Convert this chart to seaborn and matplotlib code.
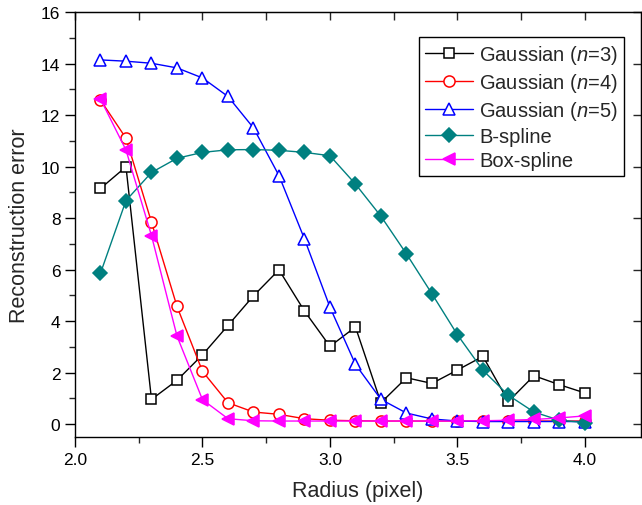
import numpy as np
import pandas as pd
import matplotlib
matplotlib.use("Agg")
import matplotlib.pyplot as plt
from matplotlib.ticker import MultipleLocator
import seaborn as sns

radius = [2.1, 2.2, 2.3, 2.4, 2.5, 2.6, 2.7, 2.8, 2.9, 3.0,
          3.1, 3.2, 3.3, 3.4, 3.5, 3.6, 3.7, 3.8, 3.9, 4.0]
gauss3 = [9.15, 9.99, 0.96, 1.70, 2.69, 3.83, 4.98, 5.99, 4.39, 3.02,
          3.77, 0.83, 1.80, 1.58, 2.10, 2.63, 0.88, 1.88, 1.53, 1.21]
gauss4 = [12.58, 11.10, 7.84, 4.57, 2.05, 0.83, 0.47, 0.38, 0.21, 0.15,
          0.13, 0.12, 0.12, 0.12, 0.12, 0.12, 0.12, 0.12, 0.12, 0.12]
gauss5 = [14.14, 14.09, 14.01, 13.83, 13.44, 12.72, 11.50, 9.65, 7.19, 4.54,
          2.32, 0.96, 0.43, 0.20, 0.12, 0.10, 0.10, 0.10, 0.10, 0.10]
bspline = [5.86, 8.68, 9.77, 10.32, 10.55, 10.65, 10.66, 10.63, 10.55, 10.42,
           9.32, 8.07, 6.61, 5.06, 3.47, 2.09, 1.12, 0.47, 0.15, 0.06]
boxspline = [12.62, 10.64, 7.32, 3.42, 0.95, 0.21, 0.13, 0.12, 0.12, 0.12,
             0.12, 0.12, 0.12, 0.12, 0.12, 0.13, 0.15, 0.18, 0.24, 0.32]
labels = ["Gaussian ($n$=3)", "Gaussian ($n$=4)", "Gaussian ($n$=5)", "B-spline", "Box-spline"]

sns.set_style("white")
plt.rcParams["font.family"] = ["Liberation Sans", "DejaVu Sans"]
plt.rcParams["mathtext.fontset"] = "custom"
plt.rcParams["mathtext.rm"] = "Liberation Sans"
plt.rcParams["mathtext.it"] = "Liberation Sans:italic"

fig = plt.figure(figsize=(6.42, 5.06), dpi=100)
ax = fig.add_axes([75 / 642, 1 - 438 / 506, (641 - 75) / 642, (438 - 13) / 506])

styles = [
    (gauss3, "black", "s", "white", 7.0),
    (gauss4, "#FF0000", "o", "white", 8.0),
    (gauss5, "#0000FF", "^", "white", 8.5),
    (bspline, "#008080", "D", "#008080", 7.5),
    (boxspline, "#FF00FF", "<", "#FF00FF", 8.5),
]
for (vals, col, mk, mfc, ms), lab in zip(styles, labels):
    df = pd.DataFrame({"Radius": radius, "Error": vals})
    sns.lineplot(data=df, x="Radius", y="Error", ax=ax, color=col, lw=1.0,
                 marker=mk, markerfacecolor=mfc, markeredgecolor=col,
                 markeredgewidth=1.1, markersize=ms, label=lab)

ax.set_xlim(2.0, 4.22)
ax.set_ylim(-0.5, 16)
ax.xaxis.set_major_locator(MultipleLocator(0.5))
ax.xaxis.set_minor_locator(MultipleLocator(0.25))
ax.yaxis.set_major_locator(MultipleLocator(2))
ax.yaxis.set_minor_locator(MultipleLocator(1))
ax.xaxis.set_major_formatter(matplotlib.ticker.FormatStrFormatter("%.1f"))
ax.tick_params(which="major", direction="out", length=7, width=1.0, labelsize=12.5,
               colors="black", bottom=True, left=True)
ax.tick_params(which="minor", direction="out", length=4, width=1.0,
               bottom=True, left=True)
for s in ax.spines.values():
    s.set_visible(True)
    s.set_color("black")
    s.set_linewidth(1.0)

top = ax.secondary_xaxis("top")
top.xaxis.set_major_locator(MultipleLocator(0.5))
top.xaxis.set_minor_locator(MultipleLocator(0.25))
top.tick_params(which="both", direction="in", length=6, width=1.0, labeltop=False)
right = ax.secondary_yaxis("right")
right.yaxis.set_major_locator(MultipleLocator(2))
right.tick_params(which="both", direction="in", length=6, width=1.0, labelright=False)

ax.set_xlabel("Radius (pixel)", fontsize=15.5, labelpad=10)
ax.set_ylabel("Reconstruction error", fontsize=15.5, labelpad=8)

leg = ax.legend(loc="upper right", bbox_to_anchor=(0.97, 0.942), fontsize=14.5,
                frameon=True, fancybox=False, edgecolor="black", framealpha=1,
                handlelength=2.4, handletextpad=0.3, borderpad=0.3,
                labelspacing=0.25, borderaxespad=0)
leg.get_frame().set_linewidth(1.0)

fig.savefig("out.png", dpi=100)
